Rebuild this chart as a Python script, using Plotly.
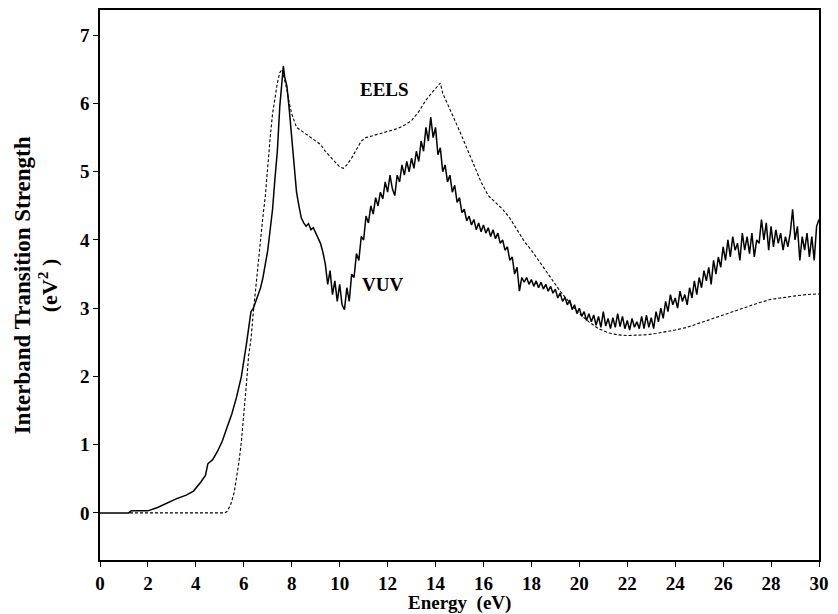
import plotly.graph_objects as go

# VUV (solid)
vuv_x = [0, 1.2, 1.3, 2.0, 2.4, 2.8, 3.2, 3.6, 3.9, 4.2, 4.4, 4.5, 4.7, 4.9, 5.1, 5.3, 5.5, 5.7, 5.9, 6.1,
         6.2, 6.3, 6.4, 6.5, 6.6, 6.7, 6.8, 6.9, 7.0, 7.1, 7.2, 7.3, 7.4, 7.5, 7.6, 7.65, 7.7, 7.8, 7.9, 8.0,
         8.1, 8.2, 8.3, 8.4,
         8.5, 8.6, 8.7, 8.8, 8.9, 9.0, 9.1, 9.2, 9.3, 9.4, 9.5, 9.6, 9.7, 9.8, 9.9, 10.0, 10.1, 10.2, 10.3, 10.4,
         10.5, 10.6, 10.7, 10.8, 10.9, 11.0, 11.1, 11.2, 11.3, 11.4, 11.5, 11.6, 11.7, 11.8, 11.9, 12.0, 12.1,
         12.2, 12.3, 12.4, 12.5, 12.6, 12.7, 12.8, 12.9, 13.0, 13.1, 13.2, 13.3, 13.4, 13.5, 13.6, 13.7, 13.8,
         13.9, 14.0, 14.1, 14.2, 14.3, 14.4, 14.5, 14.6, 14.7, 14.8, 14.9, 15.0, 15.1, 15.2, 15.3, 15.4, 15.5,
         15.6, 15.7, 15.8, 15.9, 16.0, 16.1, 16.2, 16.3, 16.4, 16.5, 16.6, 16.7, 16.8, 16.9, 17.0, 17.1, 17.2,
         17.3, 17.4, 17.5, 17.6, 17.7, 17.8, 17.9, 18.0, 18.1, 18.2, 18.3, 18.4, 18.5, 18.6, 18.7, 18.8, 18.9,
         19.0, 19.1, 19.2, 19.3, 19.4, 19.5, 19.6, 19.7, 19.8, 19.9, 20.0, 20.1, 20.2, 20.3, 20.4, 20.5, 20.6,
         20.7, 20.8, 20.9, 21.0, 21.1, 21.2, 21.3, 21.4, 21.5, 21.6, 21.7, 21.8, 21.9, 22.0, 22.1, 22.2, 22.3,
         22.4, 22.5, 22.6, 22.7, 22.8, 22.9, 23.0, 23.1, 23.2, 23.3, 23.4, 23.5, 23.6, 23.7, 23.8, 23.9, 24.0,
         24.1, 24.2, 24.3, 24.4, 24.5, 24.6, 24.7, 24.8, 24.9, 25.0, 25.1, 25.2, 25.3, 25.4, 25.5, 25.6, 25.7,
         25.8, 25.9, 26.0, 26.1, 26.2, 26.3, 26.4, 26.5, 26.6, 26.7, 26.8, 26.9, 27.0, 27.1, 27.2, 27.3, 27.4,
         27.5, 27.6, 27.7, 27.8, 27.9, 28.0, 28.1, 28.2, 28.3, 28.4, 28.5, 28.6, 28.7, 28.8, 28.9, 29.0, 29.1,
         29.2, 29.3, 29.4, 29.5, 29.6, 29.7, 29.8, 29.9, 30.0]
vuv_y = [0, 0, 0.03, 0.03, 0.08, 0.15, 0.21, 0.26, 0.32, 0.45, 0.55, 0.72, 0.78, 0.9, 1.05, 1.25, 1.45, 1.7, 2.0, 2.45,
         2.7, 2.95, 3.0, 3.1, 3.2, 3.3, 3.45, 3.65, 3.85, 4.15, 4.45, 4.9, 5.3, 5.95, 6.35, 6.55, 6.4, 6.25, 5.9, 5.5,
         5.1, 4.7, 4.5, 4.32,
         4.25, 4.2, 4.24, 4.15, 4.18, 4.1, 4.02, 3.95, 3.82, 3.65, 3.35, 3.55, 3.2, 3.4, 3.1, 3.35, 3.05, 2.98, 3.3, 3.1,
         3.5, 3.45, 3.8, 3.7, 4.05, 4.0, 4.35, 4.25, 4.5, 4.38, 4.62, 4.5, 4.7, 4.6, 4.85, 4.7, 4.95,
         4.75, 4.65, 4.95, 4.85, 5.1, 4.95, 5.15, 5.0, 5.2, 5.05, 5.3, 5.15, 5.45, 5.3, 5.65, 5.45, 5.8,
         5.5, 5.65, 5.25, 5.35, 5.0, 5.1, 4.85, 4.95, 4.7, 4.8, 4.55, 4.62, 4.4, 4.45, 4.28, 4.35, 4.22,
         4.3, 4.15, 4.25, 4.12, 4.22, 4.1, 4.18, 4.05, 4.15, 4.02, 4.1, 3.95, 4.0, 3.85, 3.9, 3.7, 3.75,
         3.5, 3.6, 3.25, 3.45, 3.38, 3.45, 3.35, 3.42, 3.32, 3.4, 3.3, 3.38, 3.28, 3.35, 3.25, 3.32, 3.22,
         3.28, 3.15, 3.22, 3.1, 3.16, 3.05, 3.12, 2.98, 3.05, 2.92, 3.0, 2.88, 2.95, 2.82, 2.92, 2.8, 2.9,
         2.75, 2.88, 2.72, 2.95, 2.74, 2.85, 2.7, 2.86, 2.72, 2.92, 2.73, 2.88, 2.7, 2.82, 2.68, 2.85, 2.72,
         2.8, 2.7, 2.88, 2.7, 2.9, 2.72, 2.86, 2.7, 2.95, 2.8, 3.0, 2.85, 3.1, 2.95, 3.2, 3.05, 3.15,
         3.0, 3.25, 3.1, 3.2, 3.05, 3.3, 3.15, 3.4, 3.2, 3.45, 3.3, 3.55, 3.4, 3.6, 3.35, 3.7, 3.5,
         3.75, 3.6, 3.9, 3.7, 4.0, 3.75, 4.05, 3.85, 3.95, 3.7, 4.1, 3.85, 4.05, 3.8, 4.1, 3.75, 4.0,
         3.95, 4.3, 4.0, 4.25, 3.85, 4.2, 3.9, 4.15, 3.95, 4.1, 3.85, 4.05, 3.9, 4.1, 4.45, 4.0, 4.2,
         3.7, 4.05, 3.85, 4.1, 3.75, 4.05, 3.7, 4.2, 4.3]

# EELS (dashed)
eels_x = [1.25, 5.2, 5.3, 5.45, 5.6, 5.7, 5.8, 5.9, 6.0, 6.1, 6.2, 6.3, 6.4, 6.5, 6.6, 6.7, 6.8, 6.9, 7.0, 7.1,
          7.2, 7.3, 7.4, 7.5, 7.6, 7.7, 7.8, 7.9, 8.0, 8.2, 8.4, 8.6, 8.8, 9.0, 9.2, 9.4, 9.6, 9.8, 10.0, 10.15,
          10.3, 10.5, 10.7, 10.9, 11.1, 11.3, 11.5, 11.8, 12.1, 12.4, 12.7, 13.0, 13.3, 13.6, 13.9, 14.1, 14.2,
          14.3, 14.5, 14.7, 15.0, 15.3, 15.6, 15.9, 16.2, 16.5, 16.8, 17.1, 17.4, 17.7, 18.0, 18.4, 18.8, 19.2,
          19.6, 20.0, 20.4, 20.8, 21.2, 21.6, 22.0, 22.4, 22.8, 23.2, 23.6, 24.0, 24.5, 25.0, 25.5, 26.0, 26.5,
          27.0, 27.5, 28.0, 28.5, 29.0, 29.5, 30.0]
eels_y = [0.0, 0.0, 0.02, 0.12, 0.3, 0.5, 0.75, 1.05, 1.4, 1.85, 2.3, 2.55, 2.95, 3.3, 3.75, 4.05, 4.35, 4.65, 5.1, 5.5,
          5.85, 6.1, 6.3, 6.45, 6.5, 6.35, 6.2, 6.0, 5.85, 5.65, 5.6, 5.55, 5.5, 5.45, 5.4, 5.3, 5.22, 5.15, 5.07, 5.05,
          5.1, 5.2, 5.32, 5.45, 5.5, 5.52, 5.55, 5.57, 5.6, 5.63, 5.68, 5.75, 5.88, 6.05, 6.18, 6.25, 6.3,
          6.15, 6.0, 5.85, 5.6, 5.35, 5.1, 4.85, 4.65, 4.55, 4.45, 4.32, 4.15, 3.98, 3.85, 3.65, 3.45, 3.25,
          3.08, 2.92, 2.8, 2.7, 2.64, 2.61, 2.6, 2.6, 2.61, 2.63, 2.65, 2.68, 2.72, 2.78, 2.84, 2.9, 2.97,
          3.03, 3.08, 3.13, 3.16, 3.18, 3.2, 3.21]

x_ticks = [0, 2, 4, 6, 8, 10, 12, 14, 16, 18, 20, 22, 24, 26, 28, 30]
y_ticks = [0, 1, 2, 3, 4, 5, 6, 7]

FONT = "Liberation Serif"

fig = go.Figure()
fig.add_trace(go.Scatter(x=eels_x, y=eels_y, mode="lines",
                         line=dict(color="black", width=1.1, dash="3px,2px"), showlegend=False))
fig.add_trace(go.Scatter(x=vuv_x, y=vuv_y, mode="lines",
                         line=dict(color="black", width=1.5), showlegend=False))

axis_common = dict(ticks="outside", ticklen=5, tickwidth=1, tickcolor="black",
                   showline=True, linecolor="black", linewidth=1.5, mirror=True,
                   showgrid=False, zeroline=False,
                   tickfont=dict(family=FONT, size=19, color="black", weight="bold"))

fig.update_layout(
    width=830, height=606,
    margin=dict(l=92, r=19, t=0, b=54),
    plot_bgcolor="white", paper_bgcolor="white",
    font=dict(family=FONT, color="black"),
    xaxis=dict(range=[0, 30], tickvals=x_ticks, **axis_common),
    yaxis=dict(range=[-0.69, 7.37], tickvals=y_ticks, **axis_common),
    annotations=[
        dict(text="<b>Interband Transition Strength</b>", xref="paper", yref="paper",
             x=-0.108, y=0.5, xanchor="center", yanchor="middle", textangle=-90,
             showarrow=False, font=dict(family=FONT, size=23)),
        dict(text="<b>(eV<sup>2</sup> )</b>", xref="paper", yref="paper",
             x=-0.072, y=0.5, xanchor="center", yanchor="middle", textangle=-90,
             showarrow=False, font=dict(family=FONT, size=22)),
        dict(text="<b>Energy  (eV)</b>", xref="paper", yref="paper",
             x=0.5, y=-0.079, yanchor="middle", showarrow=False, font=dict(family=FONT, size=19)),
        dict(text="<b>EELS</b>", x=11.88, y=6.2, showarrow=False, font=dict(family=FONT, size=19)),
        dict(text="<b>VUV</b>", x=11.8, y=3.35, showarrow=False, font=dict(family=FONT, size=19)),
    ],
)

fig.write_html("out.html")
